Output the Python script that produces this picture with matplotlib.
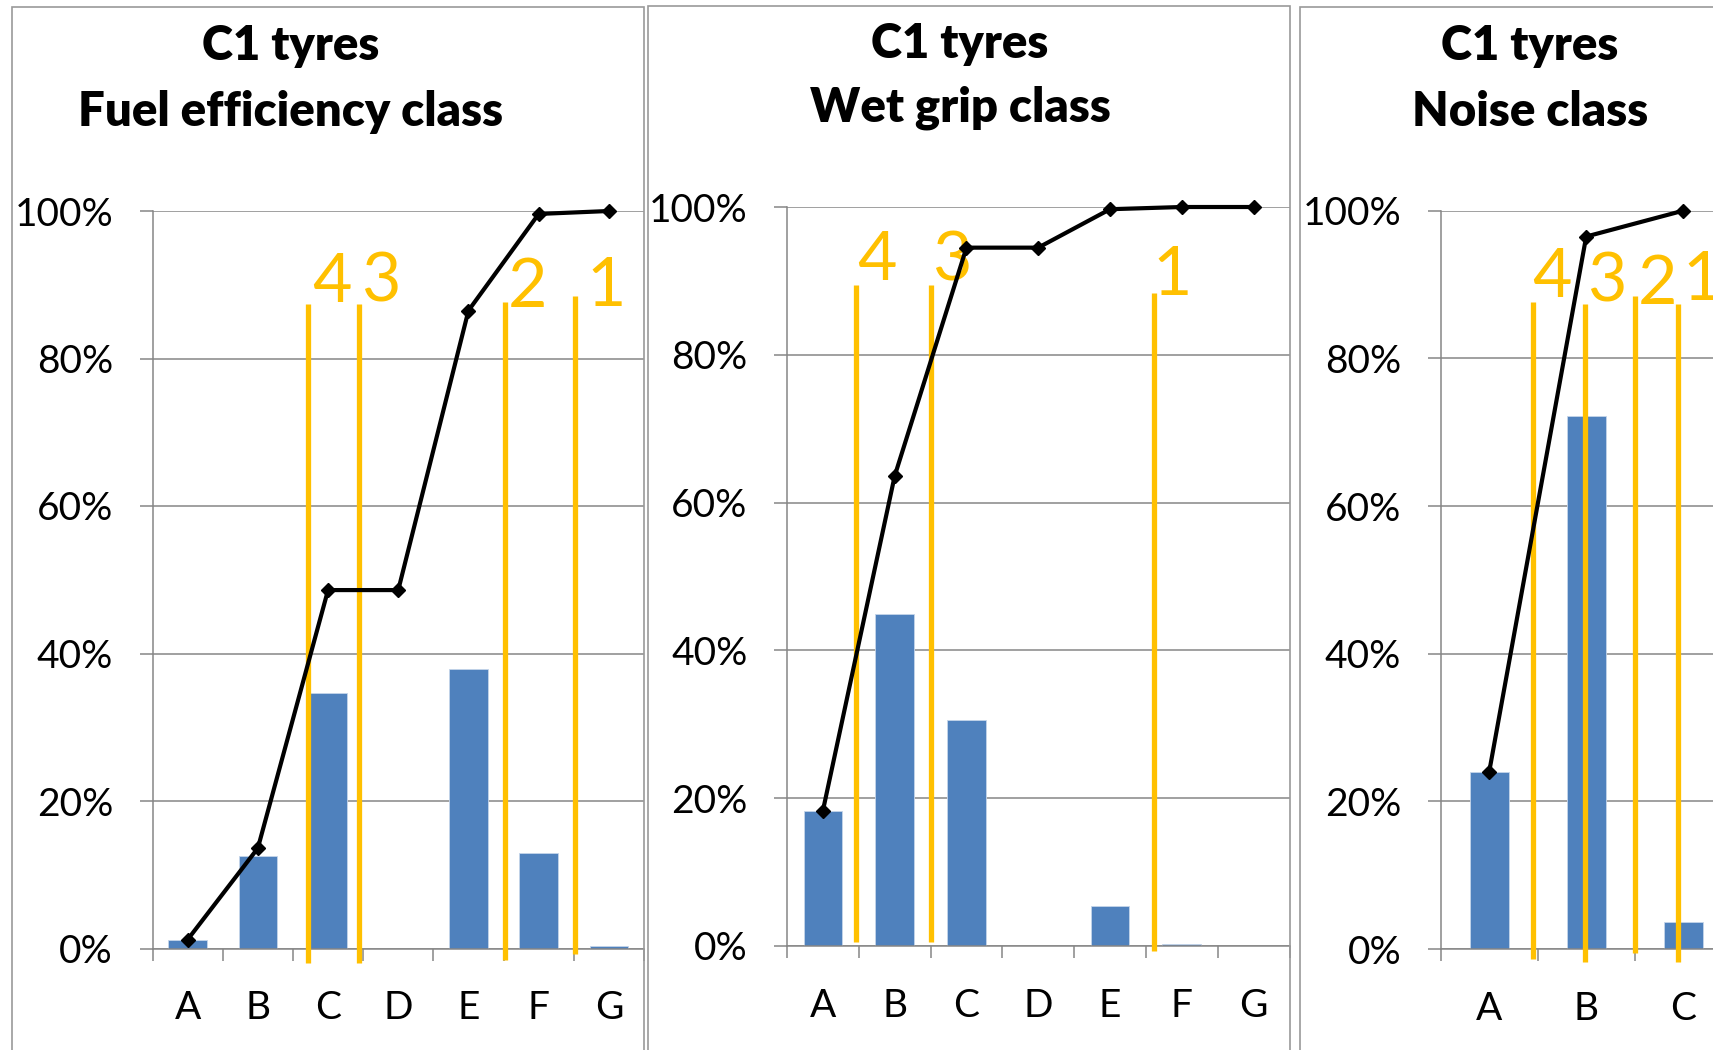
import matplotlib
matplotlib.use("Agg")
import matplotlib.pyplot as plt
from matplotlib.patches import Rectangle
import numpy as np

# ---------------- data ----------------
cats7 = ["A", "B", "C", "D", "E", "F", "G"]
cats3 = ["A", "B", "C"]
ytick_vals = [0.0, 0.2, 0.4, 0.6, 0.8, 1.0]
ytick_labels = ["0%", "20%", "40%", "60%", "80%", "100%"]

fuel_share = [0.012, 0.126, 0.346, 0.0, 0.379, 0.130, 0.003]
fuel_cum = [0.012, 0.136, 0.486, 0.486, 0.865, 0.996, 1.0]
wet_share = [0.183, 0.449, 0.306, 0.0, 0.054, 0.003, 0.0]
wet_cum = [0.183, 0.636, 0.945, 0.945, 0.997, 1.0, 1.0]
noise_share = [0.240, 0.722, 0.036]
noise_cum = [0.240, 0.965, 1.0]

fuel_marks = ["4", "3", "2", "1"]
fuel_mark_x = [1.72, 2.44, 4.52, 5.52]
fuel_mark_top = [0.874, 0.874, 0.876, 0.885]
fuel_mark_bot = [-0.019, -0.019, -0.016, -0.007]
fuel_lab_x = [2.05, 2.75, 4.84, 5.96]
fuel_lab_y = [0.877, 0.877, 0.870, 0.871]

wet_marks = ["4", "3", "1"]
wet_mark_x = [0.455, 1.50, 4.61]
wet_mark_top = [0.894, 0.894, 0.884]
wet_mark_bot = [0.005, 0.005, -0.007]
wet_lab_x = [0.755, 1.79, 4.87]
wet_lab_y = [0.901, 0.901, 0.881]

noise_marks = ["4", "3", "2", "1"]
noise_mark_x = [0.455, 0.99, 1.50, 1.95]
noise_mark_top = [0.877, 0.874, 0.885, 0.874]
noise_mark_bot = [-0.014, -0.017, -0.006, -0.017]
noise_lab_x = [0.644, 1.21, 1.735, 2.20]
noise_lab_y = [0.883, 0.877, 0.874, 0.879]

titles = [("C1 tyres", "Fuel efficiency class"),
          ("C1 tyres", "Wet grip class"),
          ("C1 tyres", "Noise class")]

# ---------------- style ----------------
W, H = 1713, 1050
DPI = 100
FONT = "Lato"
BLUE = "#4F81BD"
YELLOW = "#FFC000"
GRID = "#868686"
BORDER = "#9a9a9a"
TICK_FS = 28
TITLE_FS = 34
MARK_FS = 49

plt.rcParams["font.family"] = [FONT, "DejaVu Sans"]

fig = plt.figure(figsize=(W / DPI, H / DPI), dpi=DPI)
fig.patch.set_facecolor("white")


def fx(px):
    return px / W


def fy(py):
    return 1 - py / H


# panel borders
for (l, t, r) in [(12, 7, 644), (648, 6, 1290), (1300, 7, 1900)]:
    fig.add_artist(Rectangle((fx(l), fy(1200)), fx(r - l), (1200 - t) / H,
                             transform=fig.transFigure, fill=False,
                             edgecolor=BORDER, lw=1.2))

panels = [
    dict(box=(152.5, 644, 948.5, 211), cats=cats7, share=fuel_share, cum=fuel_cum,
         width=0.55, marks=fuel_marks, mx=fuel_mark_x, mt=fuel_mark_top, mb=fuel_mark_bot,
         lx=fuel_lab_x, ly=fuel_lab_y, tcx=291, tb=(60.5, 126)),
    dict(box=(787, 1289.5, 946, 207), cats=cats7, share=wet_share, cum=wet_cum,
         width=0.54, marks=wet_marks, mx=wet_mark_x, mt=wet_mark_top, mb=wet_mark_bot,
         lx=wet_lab_x, ly=wet_lab_y, tcx=960, tb=(57.5, 122)),
    dict(box=(1440.7, 1731.7, 949, 210.7), cats=cats3, share=noise_share, cum=noise_cum,
         width=0.40, marks=noise_marks, mx=noise_mark_x, mt=noise_mark_top, mb=noise_mark_bot,
         lx=noise_lab_x, ly=noise_lab_y, tcx=1530, tb=(60.5, 126)),
]

for p, (t1, t2) in zip(panels, titles):
    x0, x1, y0, y1 = p["box"]
    ax = fig.add_axes([fx(x0), fy(y0), fx(x1 - x0), (y0 - y1) / H])
    ax.set_facecolor("none")
    n = len(p["cats"])
    xs = np.arange(n)
    ax.set_xlim(-0.5, n - 0.5)
    ax.set_ylim(0, 1)

    ax.set_yticks(ytick_vals)
    ax.set_yticklabels(ytick_labels, fontsize=TICK_FS)
    ax.yaxis.grid(True, color=GRID, lw=1.1, zorder=0)
    ax.set_axisbelow(True)

    ax.set_xticks(np.arange(n + 1) - 0.5)
    ax.set_xticklabels([])
    ax.set_xticks(xs, minor=True)
    ax.set_xticklabels(p["cats"], minor=True, fontsize=TICK_FS)
    ax.tick_params(axis="x", which="major", length=8.6, width=1.1, color=GRID, direction="out")
    ax.tick_params(axis="x", which="minor", length=0, pad=30)
    ax.tick_params(axis="y", length=9.4, width=1.1, color=GRID, direction="out", pad=19)

    for s in ["top", "right"]:
        ax.spines[s].set_visible(False)
    for s in ["left", "bottom"]:
        ax.spines[s].set_color(GRID)
        ax.spines[s].set_linewidth(1.1)

    ax.bar(xs, p["share"], width=p["width"], color=BLUE, edgecolor="#c5d5ea",
           lw=0.6, zorder=2)

    for xm, top, bot in zip(p["mx"], p["mt"], p["mb"]):
        ax.plot([xm, xm], [bot, top], color=YELLOW, lw=3.8, clip_on=False,
                solid_capstyle="butt", zorder=3)
    for lab, lxv, lyv in zip(p["marks"], p["lx"], p["ly"]):
        ax.text(lxv, lyv, lab, color=YELLOW, fontsize=MARK_FS, ha="center",
                va="baseline", zorder=3, clip_on=False)

    ax.plot(xs, p["cum"], color="black", lw=3.0, marker="D", ms=7,
            zorder=4, clip_on=False)

    fig.text(fx(p["tcx"]), fy(p["tb"][0]), t1, fontsize=TITLE_FS, fontweight="heavy",
             ha="center", va="baseline")
    fig.text(fx(p["tcx"]), fy(p["tb"][1]), t2, fontsize=TITLE_FS, fontweight="heavy",
             ha="center", va="baseline")

fig.savefig("out.png", dpi=DPI, facecolor="white")
